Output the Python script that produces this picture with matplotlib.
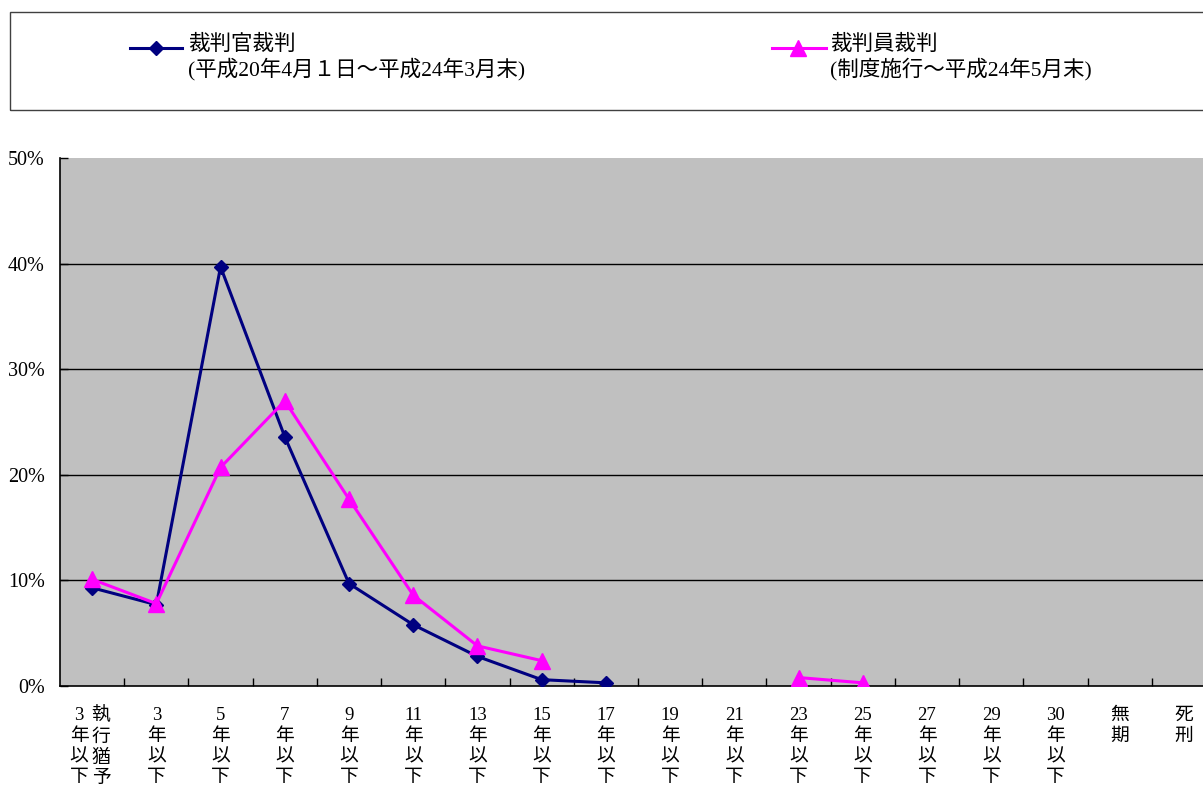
import numpy as np
import matplotlib
matplotlib.use("Agg")
import matplotlib.pyplot as plt
from matplotlib.lines import Line2D
from matplotlib.patches import Rectangle
from matplotlib.transforms import ScaledTranslation, blended_transform_factory

plt.rcParams['font.family'] = ['Liberation Serif', 'Noto Sans CJK JP', 'DejaVu Sans']

# 刑期区分 (縦書きラベル)
categories = ["3年以下", "3年以下", "5年以下", "7年以下", "9年以下", "11年以下",
              "13年以下", "15年以下", "17年以下", "19年以下", "21年以下", "23年以下",
              "25年以下", "27年以下", "29年以下", "30年以下", "無期", "死刑"]
first_extra = "執行猶予"

# 割合 (%)
judge = [9.3, 7.7, 39.7, 23.6, 9.7, 5.8, 2.8, 0.6, 0.3,
         np.nan, np.nan, np.nan, np.nan, np.nan, np.nan, np.nan, np.nan, np.nan]
lay_judge = [10.1, 7.8, 20.7, 27.0, 17.7, 8.6, 3.8, 2.4, np.nan,
             np.nan, np.nan, 0.8, 0.3, np.nan, np.nan, np.nan, np.nan, np.nan]

label_judge = "裁判官裁判\n(平成20年4月１日～平成24年3月末)"
label_lay = "裁判員裁判\n(制度施行～平成24年5月末)"

W, H = 1203, 796
fig = plt.figure(figsize=(W / 100, H / 100), dpi=100)
ax = fig.add_axes([60 / W, (H - 686) / H, 1156 / W, 528 / H])
ax.set_facecolor('#C0C0C0')

x = np.arange(len(categories))
ax.plot(x, judge, color='#000080', lw=2.2, marker='D', ms=7.5, zorder=3)
ax.plot(x, lay_judge, color='#FF00FF', lw=2.2, marker='^', ms=11, zorder=4)

ax.set_xlim(-0.5, len(categories) - 0.5)
ax.set_ylim(0, 50)
ax.set_yticks(np.arange(0, 51, 10))
ax.set_yticklabels([f"{v}%" for v in range(0, 51, 10)], fontsize=14.5)
for v in range(10, 50, 10):
    ax.axhline(v, color='black', lw=1, zorder=1)

ax.set_xticks(np.arange(0.5, len(categories) - 0.5, 1))
ax.set_xticklabels([])
ax.tick_params(axis='x', direction='in', length=6, width=1)
ax.tick_params(axis='y', direction='in', length=6, width=1, pad=11)
for s in ['top', 'right']:
    ax.spines[s].set_visible(False)
for s in ['left', 'bottom']:
    ax.spines[s].set_linewidth(1.2)

# 縦書きのx軸ラベル
trans = blended_transform_factory(ax.transData, ax.transAxes)
def vtext(xpos, s, dx=0):
    t = trans + ScaledTranslation(dx / 100, -21 / 100, fig.dpi_scale_trans)
    ax.text(xpos, 0, "\n".join(s), transform=t, ha='center', va='top',
            fontsize=13.5, linespacing=1.28, clip_on=False)

for i, c in enumerate(categories):
    parts = c.split("年")
    if len(parts) == 2:
        col = [parts[0], "年"] + list(parts[1])
    else:
        col = list(c)
    if i == 0:
        vtext(i, col, dx=-13)
        vtext(i, first_extra, dx=9)
    else:
        vtext(i, col)

# 凡例
fig.add_artist(Rectangle((10 / W, (H - 110) / H), 1205 / W, 98 / H,
                         transform=fig.transFigure, fill=False,
                         edgecolor='#404040', lw=1))
ly = (H - 48) / H
fig.add_artist(Line2D([130 / W, 156 / W, 182 / W], [ly, ly, ly], transform=fig.transFigure,
                      color='#000080', lw=2.2, marker='D', ms=7.5, markevery=[1]))
fig.add_artist(Line2D([772 / W, 798 / W, 826 / W], [ly, ly, ly], transform=fig.transFigure,
                      color='#FF00FF', lw=2.2, marker='^', ms=11, markevery=[1]))
fig.text(188 / W, (H - 35) / H, label_judge, fontsize=15.5, va='top', linespacing=1.15)
fig.text(830 / W, (H - 35) / H, label_lay, fontsize=15.5, va='top', linespacing=1.15)

fig.savefig("out.png", dpi=100)
